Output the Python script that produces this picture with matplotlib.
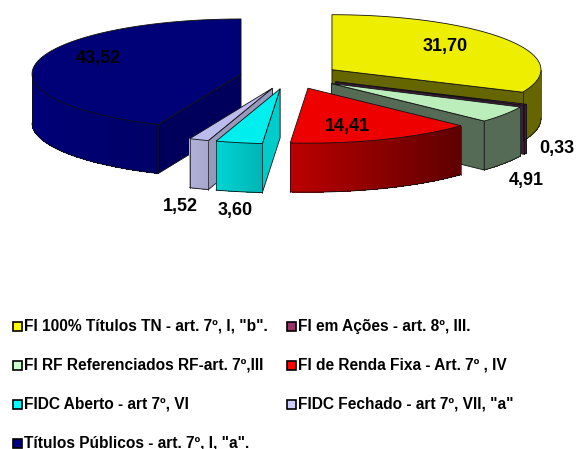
import numpy as np
import matplotlib
matplotlib.use("Agg")
import matplotlib.pyplot as plt
from matplotlib.colors import to_rgb
from matplotlib.patches import Polygon, Rectangle

plt.rcParams['font.family'] = ['Liberation Sans', 'DejaVu Sans']

# pie values, clockwise from 12 o'clock
values = [31.70, 0.33, 4.91, 14.41, 3.60, 1.52, 43.52]
value_labels = ['31,70', '0,33', '4,91', '14,41', '3,60', '1,52', '43,52']
names = ['FI 100% Títulos TN - art. 7º, I, "b".',
         'FI em Ações - art. 8º, III.',
         'FI RF Referenciados RF-art. 7º,III',
         'FI de Renda Fixa - Art. 7º , IV',
         'FIDC Aberto - art 7º, VI',
         'FIDC Fechado - art 7º, VII, "a"',
         'Títulos Públicos - art. 7º, I, "a".']
legend_colors = ['#FFFF00', '#993366', '#CCFFCC', '#FF0000', '#00FFFF', '#CCCCFF', '#000080']

top_colors = ['#EEEE00', '#6E2F5C', '#BBEEBB', '#EE0000', '#00EEEE', '#BBBBEE', '#000077']
wall_left = ['#666600', '#3D1C38', '#556B55', '#BB0000', '#00D4D4', '#B0B0D8', '#000078']
wall_right = ['#666600', '#3D1C38', '#556B55', '#5E0000', '#00B4B4', '#A8A8CE', '#000066']
face_colors = ['#666600', '#3D1C38', '#556B55', '#660000', '#00CCCC', '#9898BC', '#00005C']

# where each value label sits, pixels
label_x = [445, 557, 526, 347, 235, 180, 98]
label_y = [46, 149, 180, 126, 211, 207, 59]

# pie geometry in pixels
cx, cy = 290, 76.5
rx, ry = 209, 55
depth = 49
explode_x, explode_y = 50, 12.5
draw_order = [0, 1, 2, 6, 3, 5, 4]


def arc(px, py, a0, a1, n=60):
    # angles in degrees, clockwise from 12 o'clock
    t = np.radians(np.linspace(a0, a1, n))
    return px + rx * np.sin(t), py - ry * np.cos(t)


def draw_slice(ax, i, a0, a1):
    mid = np.radians((a0 + a1) / 2)
    px = cx + explode_x * np.sin(mid)
    py = cy - explode_y * np.cos(mid)
    edge = dict(edgecolor='#111111', linewidth=0.6)

    # flat sides, only the ones turned toward the viewer
    for ang, show in ((a0, np.sin(np.radians(a0)) < -1e-6),
                      (a1, np.sin(np.radians(a1)) > 1e-6)):
        if show:
            x, y = arc(px, py, ang, ang, 1)
            pts = [(px, py), (x[0], y[0]), (x[0], y[0] + depth), (px, py + depth)]
            ax.add_patch(Polygon(pts, facecolor=face_colors[i], **edge))

    # rim, the part between 3 and 9 o'clock
    w0, w1 = max(a0, 90), min(a1, 270)
    if w0 < w1:
        x, y = arc(px, py, w0, w1, 80)
        c0, c1 = np.array(to_rgb(wall_left[i])), np.array(to_rgb(wall_right[i]))
        x_min, x_max = x.min(), x.max()
        base = list(zip(x, y)) + list(zip(x[::-1], y[::-1] + depth))
        ax.add_patch(Polygon(base, facecolor=(c0 + c1) / 2, edgecolor='none'))
        for k in range(len(x) - 1):
            f = ((x[k] + x[k + 1]) / 2 - x_min) / max(x_max - x_min, 1)
            col = c0 + (c1 - c0) * f
            seg = [(x[k], y[k]), (x[k + 1], y[k + 1]),
                   (x[k + 1], y[k + 1] + depth), (x[k], y[k] + depth)]
            ax.add_patch(Polygon(seg, facecolor=col, edgecolor='none', antialiased=False))
        ax.plot(x, y + depth, color='#111111', lw=0.6)
        ax.plot([x[0], x[0]], [y[0], y[0] + depth], color='#111111', lw=0.5)
        ax.plot([x[-1], x[-1]], [y[-1], y[-1] + depth], color='#111111', lw=0.5)

    # top
    x, y = arc(px, py, a0, a1, 80)
    pts = [(px, py)] + list(zip(x, y))
    ax.add_patch(Polygon(pts, facecolor=top_colors[i], **edge))


fig = plt.figure(figsize=(5.76, 4.49), dpi=100)
ax = fig.add_axes([0, 0, 1, 1])
ax.set_xlim(0, 576)
ax.set_ylim(449, 0)
ax.axis('off')

edges = np.concatenate([[0], np.cumsum(values)]) / np.sum(values) * 360
for i in draw_order:
    draw_slice(ax, i, edges[i], edges[i + 1])

for i, txt in enumerate(value_labels):
    ax.text(label_x[i], label_y[i], txt, ha='center', va='center',
            fontsize=13, fontweight='bold', color='black')

# legend, two columns
legend_rows = [326, 365, 404, 443]
legend_cols = [17, 291]
for i, name in enumerate(names):
    lx = legend_cols[i % 2]
    ly = legend_rows[i // 2]
    ax.add_patch(Rectangle((lx - 4.5, ly - 4.5), 9, 9, facecolor=legend_colors[i],
                           edgecolor='black', linewidth=1.2))
    ax.text(lx + 7, ly, name, ha='left', va='center',
            fontsize=11.2, fontweight='bold', color='black')

fig.savefig('out.png', dpi=100)
